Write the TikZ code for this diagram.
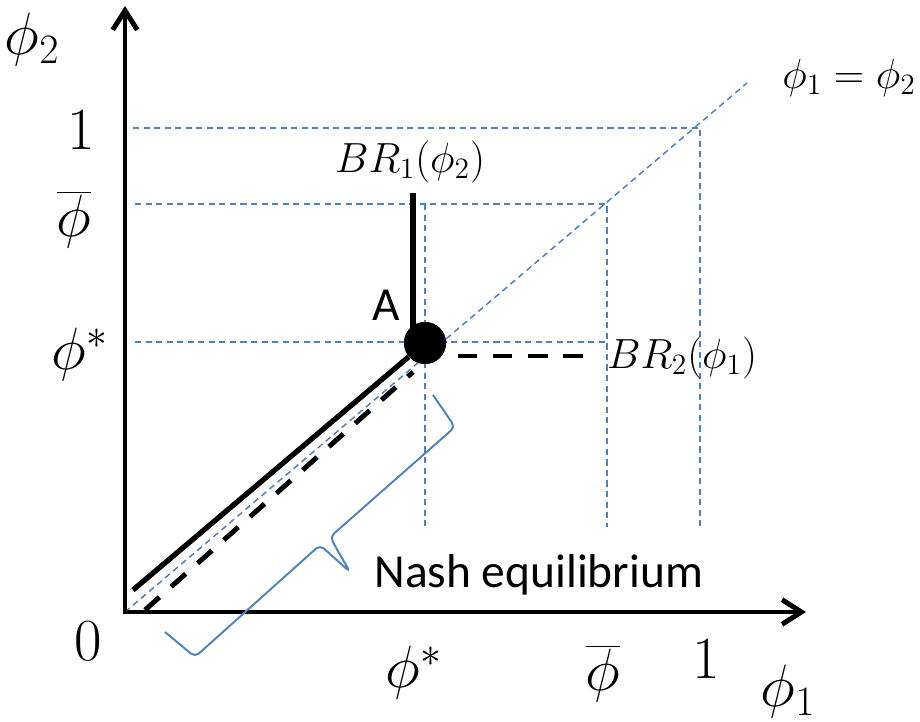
\documentclass[tikz,border=0pt]{standalone}
\usepackage{fix-cm}
\usepackage{fontspec}
\newfontfamily\calibri{Carlito}
\usepackage{tikz}
\usetikzlibrary{arrows.meta}
\definecolor{guideblue}{RGB}{79,129,189}

\begin{document}
\begin{tikzpicture}[x=0.02cm,y=-0.02cm,>={Straight Barb[length=11pt,width=14pt]}]
\tikzstyle{ax}=[line width=2.8pt,->]
\tikzstyle{guide}=[guideblue,line width=0.85pt,dash pattern=on 3.5pt off 2.5pt]
\tikzstyle{br}=[line width=3pt]
\tikzstyle{brd}=[line width=2.8pt,dash pattern=on 11pt off 9pt]
\tikzstyle{big}=[inner sep=0pt,font=\fontsize{34}{40}\selectfont]
\tikzstyle{mid}=[inner sep=0pt,font=\fontsize{24}{29}\selectfont]
\tikzstyle{sans}=[inner sep=0pt,font=\calibri\fontsize{27}{32}\selectfont]
\useasboundingbox (0,0) rectangle (920,722);
% points
\coordinate (O) at (125,612);
\coordinate (ytop) at (125,6);
\coordinate (xend) at (806,612);
\coordinate (dtop) at (747,83);
\node[circle,fill=black,inner sep=0pt,minimum size=42*0.02cm] (A) at (425,343) {};
% guides
\draw[guide] (133,128) -- (700,128) -- (700,527);
\draw[guide] (135,204) -- (607,204) -- (607,527);
\draw[guide] (135,342) -- (607,342);
\draw[guide] (425,204) -- (425,527);
\draw[guide] (O) -- (dtop);
% axes
\draw[ax] (125,614) -- (ytop);
\draw[ax] (123,612) -- (xend);
% best responses
\coordinate (s0) at (133,590);
\coordinate (s1) at (413,193);
\draw[br] (s0) -- (A);
\draw[br] (s1) -- (s1 |- A.center);
\coordinate (d0) at (145,610);
\coordinate (d1) at (413,372);
\draw[brd] (d0) -- (d1);
\draw[brd] (458,356) -- (593,356);
\node[circle,fill=black,inner sep=0pt,minimum size=42*0.02cm] at (A) {};
% brace
\draw[guideblue,line width=1.1pt,rounded corners=3pt] (433,395) -- (455,427) -- (330,537) -- (350,572) -- (320,545) -- (195,657) -- (165,632);
% labels
\node[big] (phitwo) at (32,40) {$\phi_2$};
\node[big] (oney) at (81,130) {$1$};
\node[big] (bary) at (74,220) {$\overline{\phi}$};
\node[big] (stary) at (80,355) {$\phi^*$};
\node[big] (zero) at (88,641) {$0$};
\node[big] (starx) at (414,673) {$\phi^*$};
\node[big] (barx) at (603,674) {$\overline{\phi}$};
\node[big] (onex) at (706,659) {$1$};
\node[big] (phione) at (788,692) {$\phi_1$};
\node[mid] (diag) at (849,78) {$\phi_1=\phi_2$};
\node[mid] (brone) at (410,162) {$BR_1(\phi_2)$};
\node[mid] (brtwo) at (682,358) {$BR_2(\phi_1)$};
\node[sans] (lblA) at (386,305) {A};
\node[sans,anchor=west] (nash) at (374,575) {Nash equilibrium};
\end{tikzpicture}
\end{document}
